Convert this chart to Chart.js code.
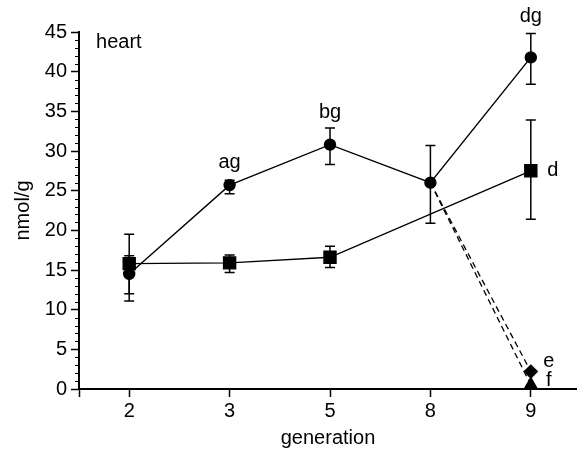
<!DOCTYPE html>
<html>
<head>
<meta charset="utf-8">
<script src="https://cdn.jsdelivr.net/npm/chart.js@4"></script>
<style>
  body { margin: 0; background: #fff; }
  #wrap { width: 577px; height: 451px; }
</style>
</head>
<body>
<div id="wrap"><canvas id="myChart"></canvas></div>
<script>
// generations on the x axis
const generations = ['2', '3', '5', '8', '9'];

// circles (solid line)
const circleVals = [14.5, 25.7, 30.8, 26.0, 41.8];
const circleLow  = [11.1, 24.6, 28.3, 20.9, 38.4];
const circleHigh = [16.8, 26.3, 32.9, 30.7, 44.8];

// squares (solid line, no value at generation 8)
const squareVals = [15.8, 15.9, 16.6, null, 27.5];
const squareLow  = [12.0, 14.7, 15.3, null, 21.4];
const squareHigh = [19.5, 16.9, 18.0, null, 33.9];

// dashed drop from generation 8 to generation 9
const diamondVals  = [null, null, null, 26.0, 2.2];
const triangleVals = [null, null, null, 26.0, 0.5];

const yTicks = [0, 5, 10, 15, 20, 25, 30, 35, 40, 45];

// letters written next to the points: [text, x index, y value]
const letters = [
  ['ag', 1, 28.6],
  ['bg', 2, 34.9],
  ['dg', 4, 46.9],
  ['d', 4.22, 27.5],
  ['e', 4.18, 3.5],
  ['f', 4.18, 1.1]
];

const black = '#000';

function toPoints(arr) {
  return arr.map((v, i) => ({ x: i, y: v }));
}

Chart.defaults.font.family = "'Liberation Sans', Arial, sans-serif";
Chart.defaults.font.size = 20;
Chart.defaults.color = black;

// vertical error bars with caps, drawn under the markers
const errorBars = {
  id: 'errorBars',
  beforeDatasetsDraw(chart) {
    const ctx = chart.ctx;
    const xs = chart.scales.x, ys = chart.scales.y;
    ctx.save();
    ctx.strokeStyle = black;
    ctx.lineWidth = 1.5;
    chart.data.datasets.forEach(ds => {
      if (!ds.errLow) return;
      ds.errLow.forEach((lo, i) => {
        const hi = ds.errHigh[i];
        if (lo == null || hi == null) return;
        const x = xs.getPixelForValue(i);
        const y1 = ys.getPixelForValue(lo);
        const y2 = ys.getPixelForValue(hi);
        ctx.beginPath();
        ctx.moveTo(x, y1); ctx.lineTo(x, y2);
        ctx.moveTo(x - 5, y1); ctx.lineTo(x + 5, y1);
        ctx.moveTo(x - 5, y2); ctx.lineTo(x + 5, y2);
        ctx.stroke();
      });
    });
    ctx.restore();
  }
};

// minor y ticks + text labels
const extras = {
  id: 'extras',
  afterDraw(chart) {
    const ctx = chart.ctx;
    const xs = chart.scales.x, ys = chart.scales.y;
    const left = chart.chartArea.left;
    ctx.save();
    ctx.strokeStyle = black;
    ctx.lineWidth = 1.2;
    ctx.beginPath();
    for (let v = 0; v <= 45; v++) {
      if (v % 5 === 0) continue;
      const y = Math.round(ys.getPixelForValue(v)) + 0.5;
      ctx.moveTo(left - 4, y);
      ctx.lineTo(left, y);
    }
    ctx.stroke();

    ctx.fillStyle = black;
    ctx.font = "20px 'Liberation Sans', Arial, sans-serif";
    ctx.textBaseline = 'middle';
    ctx.textAlign = 'left';
    ctx.fillText('heart', xs.getPixelForValue(-0.33), ys.getPixelForValue(43.7));
    ctx.textAlign = 'center';
    for (const [t, xi, yv] of letters) {
      ctx.fillText(t, xs.getPixelForValue(xi), ys.getPixelForValue(yv));
    }
    ctx.restore();
  }
};

new Chart(document.getElementById('myChart'), {
  type: 'line',
  data: {
    datasets: [
      {
        data: toPoints(circleVals),
        errLow: circleLow, errHigh: circleHigh,
        borderColor: black, backgroundColor: black, borderWidth: 1.4,
        pointStyle: 'circle', pointRadius: 5.5, tension: 0, clip: false
      },
      {
        data: toPoints(squareVals),
        errLow: squareLow, errHigh: squareHigh,
        borderColor: black, backgroundColor: black, borderWidth: 1.4,
        pointStyle: 'rect', pointRadius: 8.5, spanGaps: true, tension: 0, clip: false
      },
      {
        data: toPoints(diamondVals),
        borderColor: black, backgroundColor: black, borderWidth: 1.3, borderDash: [6, 4],
        pointStyle: 'rectRot', pointRadius: [0, 0, 0, 0, 6.5], tension: 0, clip: false
      },
      {
        data: toPoints(triangleVals),
        borderColor: black, backgroundColor: black, borderWidth: 1.3, borderDash: [6, 4],
        pointStyle: 'triangle', pointRadius: [0, 0, 0, 0, 7.5], tension: 0, clip: false
      }
    ]
  },
  options: {
    responsive: true,
    maintainAspectRatio: false,
    animation: false,
    layout: { autoPadding: false, padding: { top: 32, right: 0, bottom: 0, left: 0 } },
    plugins: {
      legend: { display: false },
      tooltip: { enabled: false }
    },
    scales: {
      x: {
        type: 'linear',
        min: -0.5,
        max: 4.46,
        afterBuildTicks: (scale) => {
          scale.ticks = [-0.5, 0, 1, 2, 3, 4].map(v => ({ value: v }));
        },
        afterFit: (scale) => {
          scale.height = 62;
          scale.paddingLeft = 0;
          scale.paddingRight = 0;
        },
        ticks: {
          autoSkip: false,
          maxRotation: 0,
          padding: 2,
          callback: (v) => generations[v] ?? ''
        },
        grid: { drawOnChartArea: false, drawTicks: true, tickLength: 8, tickColor: black, tickWidth: 1.5 },
        border: { color: black, width: 2 },
        title: { display: true, text: 'generation', padding: { top: 0, bottom: 1 } }
      },
      y: {
        min: 0,
        max: 45,
        afterBuildTicks: (scale) => {
          scale.ticks = yTicks.map(v => ({ value: v }));
        },
        afterFit: (scale) => { scale.width = 79; },
        ticks: { padding: 4 },
        grid: { drawOnChartArea: false, drawTicks: true, tickLength: 8, tickColor: black, tickWidth: 1.5 },
        border: { color: black, width: 2 },
        title: { display: true, text: 'nmol/g', padding: { top: 11, bottom: 0 } }
      }
    }
  },
  plugins: [errorBars, extras]
});
</script>
</body>
</html>
